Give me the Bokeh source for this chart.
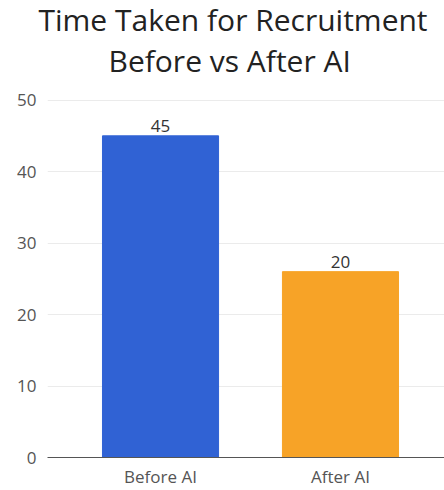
from bokeh.plotting import figure
from bokeh.models import ColumnDataSource, Range1d, FixedTicker, Title
from bokeh.core.properties import value
from bokeh.embed import file_html
from bokeh.resources import INLINE

categories = ["Before AI", "After AI"]
bar_values = [45, 26]
label_texts = ["45", "20"]
bar_colors = ["#3062D4", "#F7A327"]
y_ticks = [0, 10, 20, 30, 40, 50]
title_lines = ["Time Taken for Recruitment", "Before vs After AI"]

FONT = "Open Sans"

x_pos = list(range(len(categories)))
source = ColumnDataSource(data=dict(x=x_pos, val=bar_values, lab=label_texts, color=bar_colors))

p = figure(
    width=444, height=490,
    x_range=Range1d(-0.628, len(categories) - 1 + 0.578),
    y_range=Range1d(0, 52.6),
    toolbar_location=None, output_backend="svg",
    min_border_left=47, min_border_right=0, min_border_top=0, min_border_bottom=0,
)
p.title = None
standoffs = [-7, 2]
offsets = [-9, 61]
for line, so, off in reversed(list(zip(title_lines, standoffs, offsets))):
    p.add_layout(Title(text=line, align="left", offset=off, text_font=FONT,
                       text_font_size="30px", text_font_style="normal",
                       text_color="#222222", standoff=so), "above")

p.vbar(x="x", top="val", width=0.645, color="color", source=source)
p.text(x="x", y="val", text="lab", source=source, text_align="center", text_baseline="bottom",
       y_offset=-4, text_font=value(FONT), text_font_size="17px", text_color="#333333")

p.outline_line_color = None
p.background_fill_color = "white"
p.border_fill_color = "white"
p.xgrid.grid_line_color = None
p.ygrid.grid_line_color = "#ebebeb"
p.ygrid.ticker = FixedTicker(ticks=y_ticks)

p.yaxis.ticker = FixedTicker(ticks=y_ticks)
p.yaxis.axis_line_color = None
p.yaxis.major_tick_line_color = None
p.yaxis.minor_tick_line_color = None
p.yaxis.major_tick_out = 0
p.yaxis.major_tick_in = 0
p.yaxis.major_label_standoff = 11
p.yaxis.major_label_text_font = FONT
p.yaxis.major_label_text_font_size = "17px"
p.yaxis.major_label_text_color = "#555555"

p.xaxis.ticker = FixedTicker(ticks=x_pos)
p.xaxis.major_label_overrides = {i: c for i, c in zip(x_pos, categories)}
p.xaxis.axis_line_color = "#555555"
p.xaxis.axis_line_width = 1
p.xaxis.major_tick_line_color = None
p.xaxis.minor_tick_line_color = None
p.xaxis.major_tick_out = 0
p.xaxis.major_tick_in = 0
p.xaxis.major_label_standoff = 7
p.xaxis.major_label_text_font = FONT
p.xaxis.major_label_text_font_size = "17px"
p.xaxis.major_label_text_color = "#555555"

open("out.html", "w").write(file_html(p, INLINE))
